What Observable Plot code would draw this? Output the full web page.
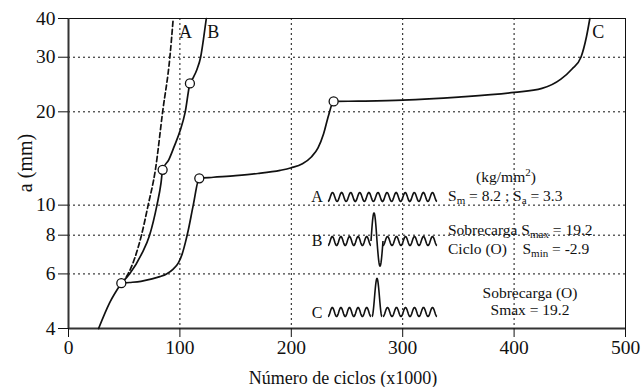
<!DOCTYPE html>
<html><head><meta charset="utf-8">
<script src="https://cdn.jsdelivr.net/npm/d3@7"></script>
<script src="https://cdn.jsdelivr.net/npm/@observablehq/plot@0.6"></script>
<style>body{margin:0;background:#fff;} #chart svg{font-family:"Liberation Serif",serif;overflow:visible;}</style>
</head><body><div id="chart"></div>
<script>
// Curve data: [cycles (x1000), crack length a (mm)]
const curveBase = [[27,4],[37,4.85],[47.4,5.6]];
const curveA = [[47.4,5.6],[53.5,6],[65.5,8],[71.5,10],[78,13],[84.5,20],[91,30],[94,40]];
const curveB = [[47.4,5.6],[54.8,6],[66,7],[72.8,8],[79.4,10],[83,11.75],[84.5,13],[90,14],[95,15.5],[100,17.3],[104.8,20],[109,24.7],[112,25.8],[115.3,27.4],[118.6,30],[121.5,35],[123.7,40]];
const curveC = [[47.4,5.6],[55,5.63],[65,5.68],[75,5.78],[82,5.88],[88,6.0],[94,6.22],[98.5,6.5],[102,6.95],[105,7.6],[107.5,8.3],[112,10],[117.4,12.2],[130,12.3],[150,12.45],[170,12.65],[190,12.95],[200,13.2],[210,13.6],[218,14.3],[224,15.3],[229,17],[233.5,19.5],[238,21.6],[260,21.65],[300,21.8],[350,22.3],[400,23.1],[425,23.8],[442,25.5],[452,27.5],[460,30],[465,35],[468,40]];
const overloadPoints = [[47.4,5.6],[84.5,13],[109,24.7],[117.4,12.2],[238,21.6]];
const curveLabels = [{x:105,y:36,t:"A"},{x:130,y:36,t:"B"},{x:475.5,y:36,t:"C"}];
const xTicks = [0,100,200,300,400,500];
const yTicks = [4,6,8,10,20,30,40];
const xGrid = [100,200,300,400];
const yGrid = [6,8,10,20,30];

const ink = "#111";
const chart = Plot.plot({
  width: 641, height: 387,
  marginLeft: 68, marginRight: 16, marginTop: 18, marginBottom: 59,
  style: {fontFamily: "Liberation Serif, serif", fontSize: "18px", color: ink, background: "#fff"},
  x: {domain: [0,500]},
  y: {type: "log", domain: [4,40]},
  marks: [
    Plot.ruleX(xGrid, {stroke: ink, strokeDasharray: "2,3", strokeWidth: 1}),
    Plot.ruleY(yGrid, {stroke: ink, strokeDasharray: "2,3", strokeWidth: 1}),
    Plot.frame({stroke: ink, strokeWidth: 1}),
    Plot.ruleX([0], {stroke: "#333", strokeWidth: 2}),
    Plot.ruleY([4], {stroke: "#333", strokeWidth: 2}),
    Plot.axisX({ticks: xTicks, tickFormat: d => d, tickSize: 9, tickPadding: 3, label: null, fontSize: 19.5}),
    Plot.axisY({ticks: yTicks, tickFormat: d => d, tickSize: 10, tickPadding: 3, label: null, fontSize: 19.5}),
    Plot.line(curveBase, {x: d => d[0], y: d => d[1], curve: "monotone-x", stroke: ink, strokeWidth: 1.7}),
    Plot.line(curveA, {x: d => d[0], y: d => d[1], curve: "monotone-x", stroke: ink, strokeWidth: 1.7, strokeDasharray: "5,3"}),
    Plot.line(curveB, {x: d => d[0], y: d => d[1], curve: "monotone-x", stroke: ink, strokeWidth: 1.7}),
    Plot.line(curveC, {x: d => d[0], y: d => d[1], curve: "monotone-x", stroke: ink, strokeWidth: 1.7}),
    Plot.dot(overloadPoints, {x: d => d[0], y: d => d[1], r: 4.5, fill: "#fff", stroke: ink, strokeWidth: 1.3}),
    Plot.text(curveLabels, {x: "x", y: "y", text: "t", fontSize: 18, fill: ink})
  ]
});
document.getElementById("chart").appendChild(chart);

const svg = d3.select(chart);
svg.selectAll('g[aria-label="x-axis tick label"], g[aria-label="y-axis tick label"]').attr("font-size", 19.5);

// Axis titles and legend (pixel layout)
svg.append("text").attr("transform","translate(27,163) rotate(-90)").attr("text-anchor","middle")
  .attr("dominant-baseline","middle").attr("font-size",20).attr("fill",ink).text("a (mm)");
svg.append("text").attr("x",343).attr("y",384).attr("text-anchor","middle")
  .attr("font-size",18).attr("fill",ink).text("Número de ciclos (x1000)");

const g = svg.append("g").attr("fill", ink).attr("font-size", 15.5);
function wave(x0, x1, cy, n, amp) {
  const pts = [];
  const steps = 200;
  for (let i = 0; i <= steps; i++) {
    const t = i / steps;
    pts.push([x0 + (x1 - x0) * t, cy + amp * Math.cos(2 * Math.PI * n * t)]);
  }
  return pts;
}
function spike(xc, cy, up, down, w) {
  const pts = [];
  const steps = 60;
  for (let i = 0; i <= steps; i++) {
    const t = i / steps;
    const x = xc - w + 2 * w * t;
    let y;
    if (down) y = cy - up * Math.sin(2 * Math.PI * t) * (t < 0.5 ? 1 : down / up);
    else y = cy - up * 0.5 * (1 - Math.cos(2 * Math.PI * t));
    pts.push([x, y]);
  }
  return pts;
}
const ln = d3.line().curve(d3.curveLinear);
function drawGlyph(parts) {
  parts.forEach(p => g.append("path").attr("d", ln(p)).attr("fill","none").attr("stroke",ink).attr("stroke-width",1.6));
}
drawGlyph([wave(328, 437, 197, 12, 4.5)]);
drawGlyph([wave(328, 371, 241, 5, 4.5), spike(377, 241, 28, 25, 6), wave(383, 437, 241, 6, 4.5)]);
drawGlyph([wave(328, 371, 312, 5, 4.5), spike(377, 316.5, 38, 0, 5), wave(383, 437, 312, 6, 4.5)]);

function txt(x, y, anchor, parts) {
  const t = g.append("text").attr("x", x).attr("y", y).attr("text-anchor", anchor);
  parts.forEach(p => {
    const s = t.append("tspan").text(p[0]);
    if (p[1] === "sub") s.attr("font-size", 11).attr("dy", 3);
    else if (p[1] === "sup") s.attr("font-size", 11).attr("dy", -6);
    else if (p[1] === "subA") s.attr("dy", -3);
    else if (p[1] === "back") s.attr("dy", 6);
  });
}
g.append("text").attr("x",317).attr("y",202).attr("text-anchor","middle").attr("font-size",16).text("A");
g.append("text").attr("x",317).attr("y",246).attr("text-anchor","middle").attr("font-size",16).text("B");
g.append("text").attr("x",317).attr("y",318).attr("text-anchor","middle").attr("font-size",16).text("C");
txt(506, 182, "middle", [["(kg/mm"],["2","sup"],[")","back"]]);
txt(448, 201, "start", [["S"],["m","sub"],[" = 8.2 ; S","subA"],["a","sub"],[" = 3.3","subA"]]);
txt(448, 235, "start", [["Sobrecarga S"],["max","sub"],[" = 19.2","subA"]]);
txt(448, 254, "start", [["Ciclo (O)    S"],["min","sub"],[" = -2.9","subA"]]);
txt(530, 298, "middle", [["Sobrecarga (O)"]]);
txt(530, 315, "middle", [["Smax = 19.2"]]);
</script></body></html>
